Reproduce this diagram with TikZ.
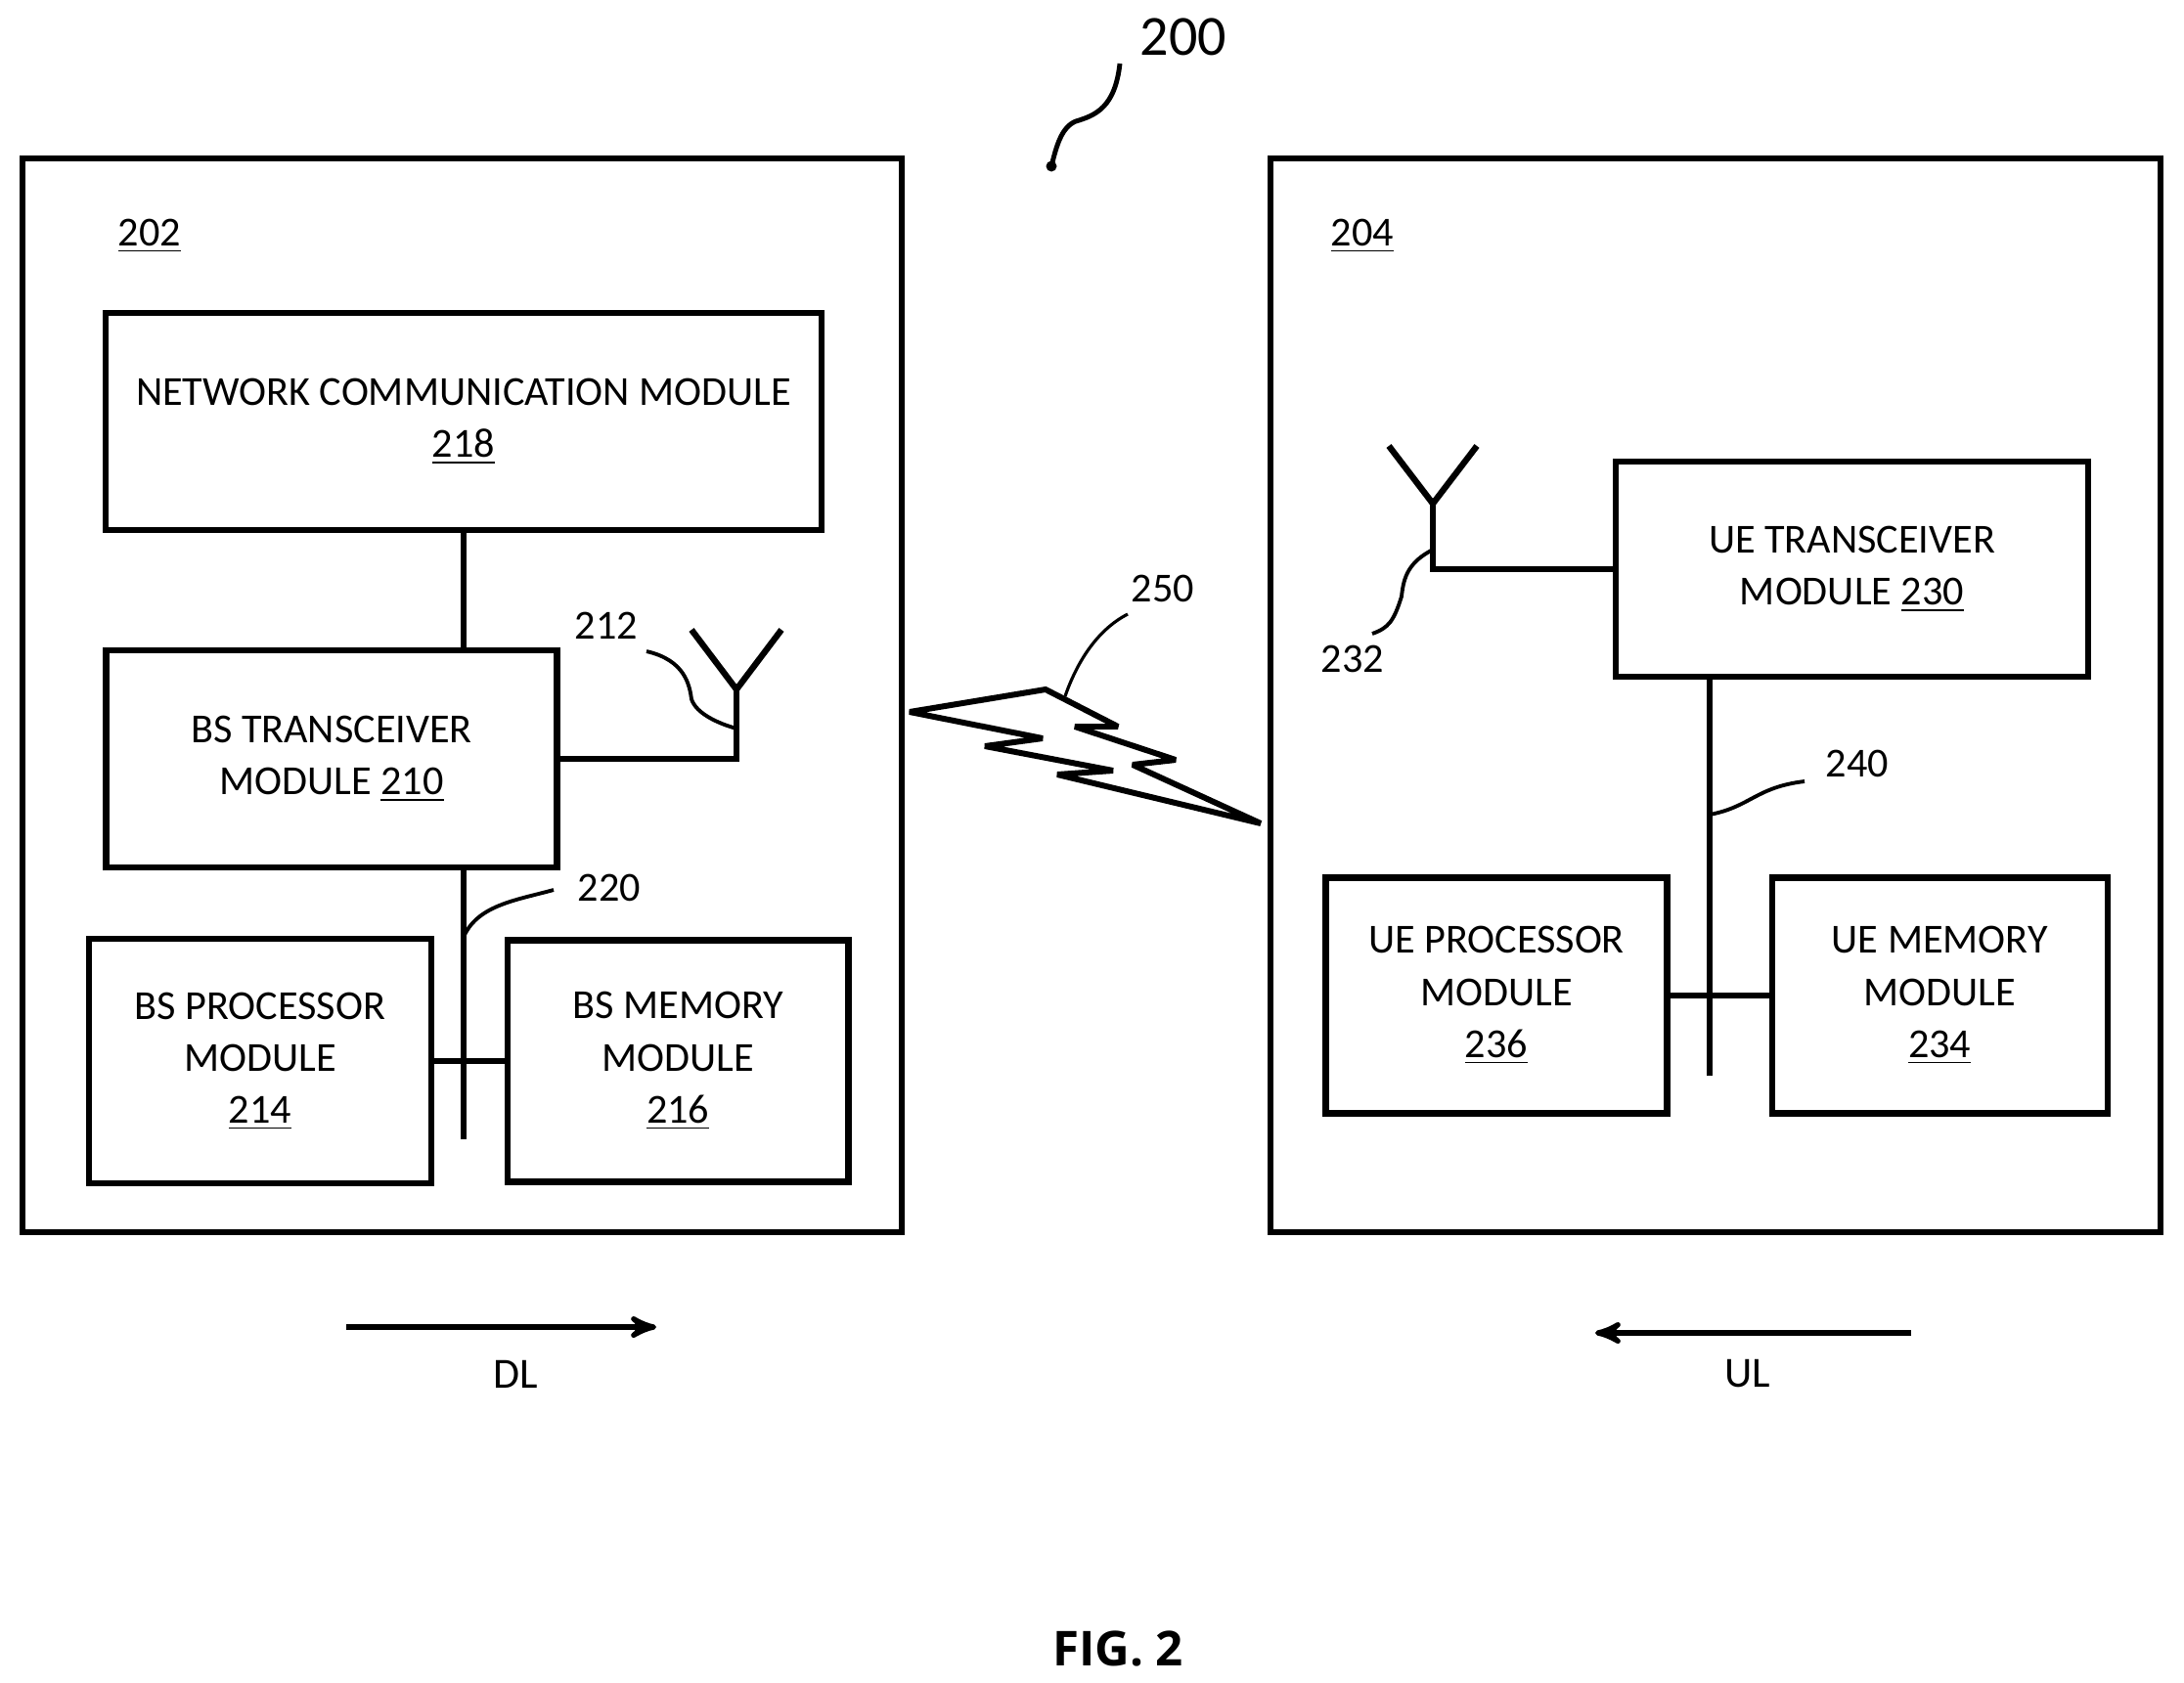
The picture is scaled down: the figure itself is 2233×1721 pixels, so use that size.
\documentclass[tikz,border=0pt]{standalone}
\usepackage{fontspec}
\setmainfont{Carlito}
\newfontfamily\figfont{Open Sans}
\usetikzlibrary{arrows}

\begin{document}
\begin{tikzpicture}[x=0.01cm,y=-0.01cm,>=stealth',
  box node/.style={rectangle,draw,line width=1.8pt,inner sep=0pt,align=center,font=\fontsize{12}{15.1}\selectfont},
  ref/.style={inner sep=0pt,font=\fontsize{12}{15}\selectfont},
  wire/.style={line width=1.8pt},
  leader/.style={line width=1.1pt}]
  \useasboundingbox (0,0) rectangle (2233,1721);
  % outer boxes
  \node[box node,minimum width=8.99cm,minimum height=10.98cm] (bs) at (472.5,711) {};
  \node[box node,minimum width=9.10cm,minimum height=10.98cm] (ue) at (1754,711) {};
  \node[ref] (bs_ref) at (153,241) {\underline{202}};
  \node[ref] (ue_ref) at (1393,241) {\underline{204}};

  % base station side
  \node[box node,minimum width=7.31cm,minimum height=2.22cm] (net) at (474,431) {NETWORK COMMUNICATION MODULE\\\underline{218}};
  \node[box node,minimum width=4.61cm,minimum height=2.22cm] (bs_trans) at (339,776) {BS TRANSCEIVER\\MODULE \underline{210}};
  \node[box node,minimum width=3.50cm,minimum height=2.50cm] (bs_proc) at (266,1085) {BS PROCESSOR\\MODULE\\\underline{214}};
  \node[box node,minimum width=3.48cm,minimum height=2.47cm] (bs_mem) [right of=bs_proc,node distance=4.27cm] {BS MEMORY\\MODULE\\\underline{216}};

  % ue side
  \node[box node,minimum width=4.83cm,minimum height=2.20cm] (ue_trans) at (1893.5,582) {UE TRANSCEIVER\\MODULE \underline{230}};
  \node[box node,minimum width=3.49cm,minimum height=2.41cm] (ue_proc) at (1530,1018) {UE PROCESSOR\\MODULE\\\underline{236}};
  \node[box node,minimum width=3.43cm,minimum height=2.41cm] (ue_mem) [right of=ue_proc,node distance=4.53cm] {UE MEMORY\\MODULE\\\underline{234}};

  % reference numbers
  \node[ref,font=\fontsize{16.5}{20}\selectfont] (sys_ref) at (1210,38) {200};
  \node[ref] (ant_bs_ref) at (620,640) {212};
  \node[ref] (bus_bs_ref) at (623,908) {220};
  \node[ref] (link_ref) at (1189,602) {250};
  \node[ref] (ant_ue_ref) at (1383,674) {232};
  \node[ref] (bus_ue_ref) at (1899,781) {240};
  \node[ref,font=\fontsize{12.5}{15}\selectfont] (dl) at (527,1405) {DL};
  \node[ref,font=\fontsize{12.5}{15}\selectfont] (ul) at (1787,1405) {UL};
  \node[inner sep=0pt,font=\fontsize{14}{16}\selectfont\figfont\bfseries] (fig) at (1143,1686) {FIG. 2};

  % free ends
  \coordinate (bs_bus) at (474,1165);
  \coordinate (ue_bus) at (1748,1100);
  \coordinate (bs_ant) at (753,705);
  \coordinate (bs_ant_l) at (707,644);
  \coordinate (bs_ant_r) at (799,644);
  \coordinate (ue_ant) at (1465,515);
  \coordinate (ue_ant_l) at (1420,456);
  \coordinate (ue_ant_r) at (1510,456);
  \coordinate (dl_a) at (354,1357);
  \coordinate (dl_b) at (671,1357);
  \coordinate (ul_a) at (1954,1363);
  \coordinate (ul_b) at (1631,1363);

  % buses and antennas
  \draw[wire] (net.south) -- (net.south |- bs_trans.north);
  \draw[wire] (bs_bus |- bs_trans.south) -- (bs_bus);
  \draw[wire] (bs_proc.east) -- (bs_proc.east -| bs_mem.west);
  \draw[wire] (bs_trans.east) -- (bs_trans.east -| bs_ant) -- (bs_ant);
  \draw[wire] (bs_ant_l) -- (bs_ant) -- (bs_ant_r);
  \draw[wire] (ue_bus |- ue_trans.south) -- (ue_bus);
  \draw[wire] (ue_proc.east) -- (ue_mem.west);
  \draw[wire] (ue_trans.west) -- (ue_trans.west -| ue_ant) -- (ue_ant);
  \draw[wire] (ue_ant_l) -- (ue_ant) -- (ue_ant_r);

  % lightning
  \draw[line width=1.7pt,line join=miter,miter limit=3]
    (930,728) -- (1069,705) -- (1143,743) -- (1099,743) -- (1202,777) -- (1158,782) -- (1289,842)
    -- (1081,792) -- (1138,788) -- (1007,763) -- (1066,755) -- cycle;

  % leaders
  \draw[leader,line width=1.4pt] (1145,65) .. controls (1140,110) and (1120,118) .. (1100,124)
    .. controls (1085,130) and (1080,150) .. (1075,170);
  \fill (1075,170) circle (0.055cm);
  \draw[leader] (661,666) .. controls (700,675) and (705,700) .. (707,715)
    .. controls (712,730) and (735,740) .. (753,745);
  \draw[leader,line width=.9pt] (1153,628) .. controls (1120,645) and (1100,680) .. (1089,712);
  \draw[leader] (475,956) .. controls (490,925) and (530,920) .. (566,910);
  \draw[leader] (1465,562) .. controls (1440,575) and (1435,590) .. (1433,610)
    .. controls (1425,635) and (1420,642) .. (1403,648);
  \draw[leader] (1748,833) .. controls (1790,825) and (1795,805) .. (1845,799);

  % DL and UL
  \draw[->,wire,line width=1.5pt] (dl_a) -- (dl_b);
  \draw[->,wire,line width=1.5pt] (ul_a) -- (ul_b);
\end{tikzpicture}
\end{document}
